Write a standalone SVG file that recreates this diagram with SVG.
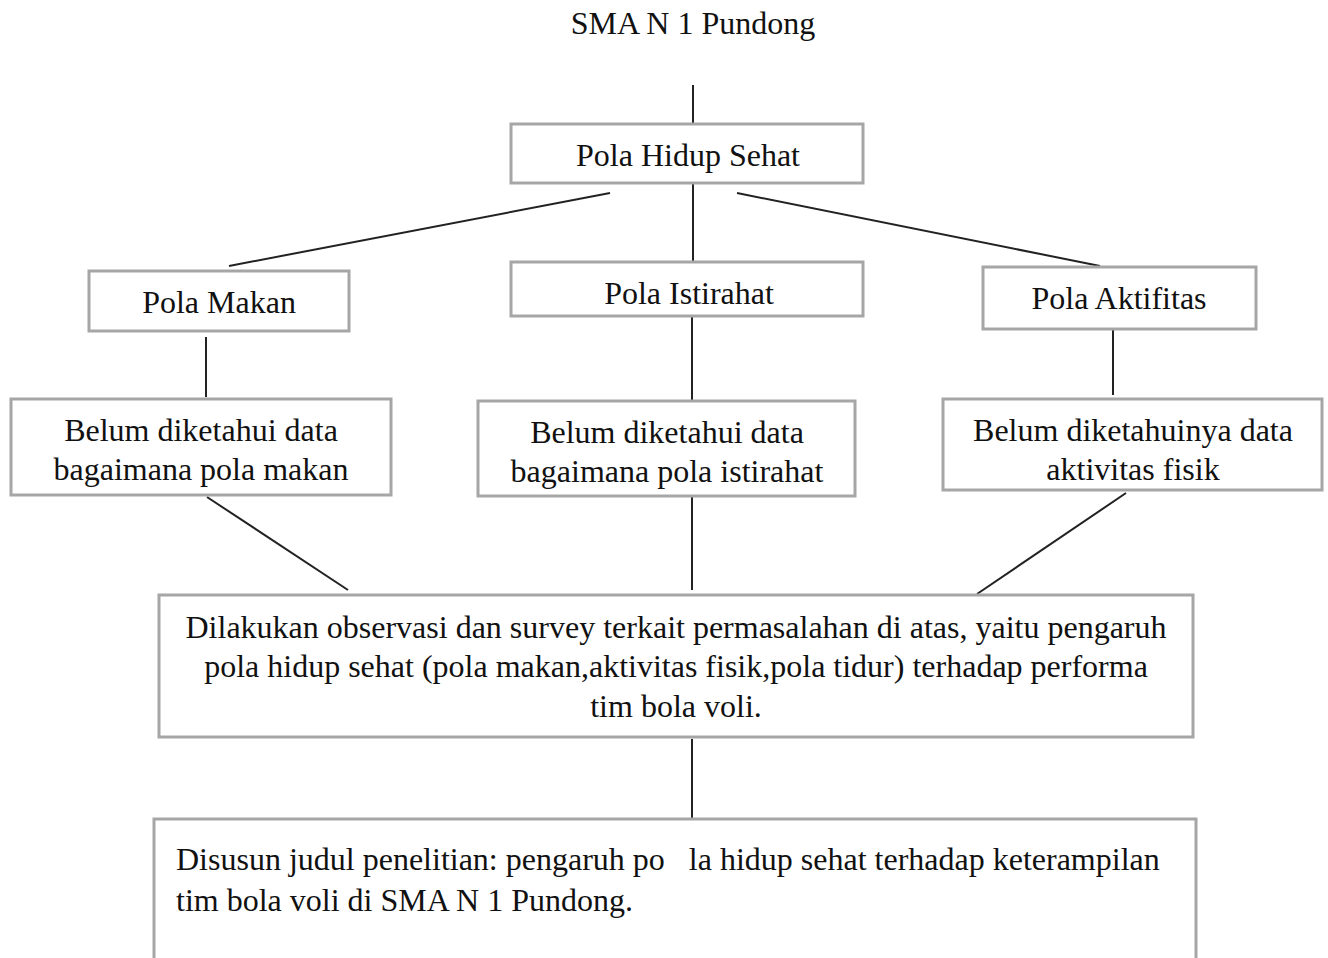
<svg xmlns="http://www.w3.org/2000/svg" width="1328" height="958" viewBox="0 0 1328 958">
<style>
.box{fill:#fff;stroke:#a6a6a6;stroke-width:3}
.t{font-family:"Liberation Serif","Times New Roman",serif;font-size:32px;fill:#111;text-anchor:middle}
.l{text-anchor:start;white-space:pre}
.c line{stroke:#222;stroke-width:2}
</style>
<rect width="1328" height="958" fill="#fff"/>
<text class="t" x="693" y="34">SMA N 1 Pundong</text>
<g class="c" id="connectors">
<line x1="693" y1="85" x2="693" y2="124"/>
<line x1="693" y1="183" x2="693" y2="262"/>
<line x1="610" y1="193" x2="229" y2="266"/>
<line x1="737" y1="193" x2="1100" y2="266"/>
<line x1="206" y1="337" x2="206" y2="397"/>
<line x1="692" y1="316" x2="692" y2="400"/>
<line x1="1113" y1="330" x2="1113" y2="395"/>
<line x1="207" y1="497" x2="348" y2="590"/>
<line x1="692" y1="497" x2="692" y2="590"/>
<line x1="1126" y1="493" x2="977" y2="594"/>
<line x1="692" y1="739" x2="692" y2="818"/>
</g>
<g id="n-hidup"><rect class="box" x="511" y="124" width="352" height="59"/><text class="t" x="688" y="166">Pola Hidup Sehat</text></g>
<g id="n-makan"><rect class="box" x="89" y="271" width="260" height="60"/><text class="t" x="219" y="313">Pola Makan</text></g>
<g id="n-istirahat"><rect class="box" x="511" y="262" width="352" height="54"/><text class="t" x="689" y="304">Pola Istirahat</text></g>
<g id="n-aktifitas"><rect class="box" x="983" y="267" width="273" height="62"/><text class="t" x="1119" y="309">Pola Aktifitas</text></g>
<g id="n-b1"><rect class="box" x="11" y="399" width="380" height="96"/><text class="t" x="201" y="441">Belum diketahui data</text><text class="t" x="201" y="480">bagaimana pola makan</text></g>
<g id="n-b2"><rect class="box" x="478" y="401" width="377" height="95"/><text class="t" x="667" y="443">Belum diketahui data</text><text class="t" x="667" y="482">bagaimana pola istirahat</text></g>
<g id="n-b3"><rect class="box" x="943" y="399" width="379" height="91"/><text class="t" x="1133" y="441">Belum diketahuinya data</text><text class="t" x="1133" y="480">aktivitas fisik</text></g>
<g id="n-obs"><rect class="box" x="159" y="595" width="1034" height="142"/><text class="t" x="676" y="638">Dilakukan observasi dan survey terkait permasalahan di atas, yaitu pengaruh</text><text class="t" x="676" y="677">pola hidup sehat (pola makan,aktivitas fisik,pola tidur) terhadap performa</text><text class="t" x="676" y="717">tim bola voli.</text></g>
<g id="n-judul"><rect class="box" x="154" y="819" width="1042" height="150"/><text class="t l" x="176" y="870">Disusun judul penelitian: pengaruh po   la hidup sehat terhadap keterampilan</text><text class="t l" x="176" y="911">tim bola voli di SMA N 1 Pundong.</text></g>
</svg>
